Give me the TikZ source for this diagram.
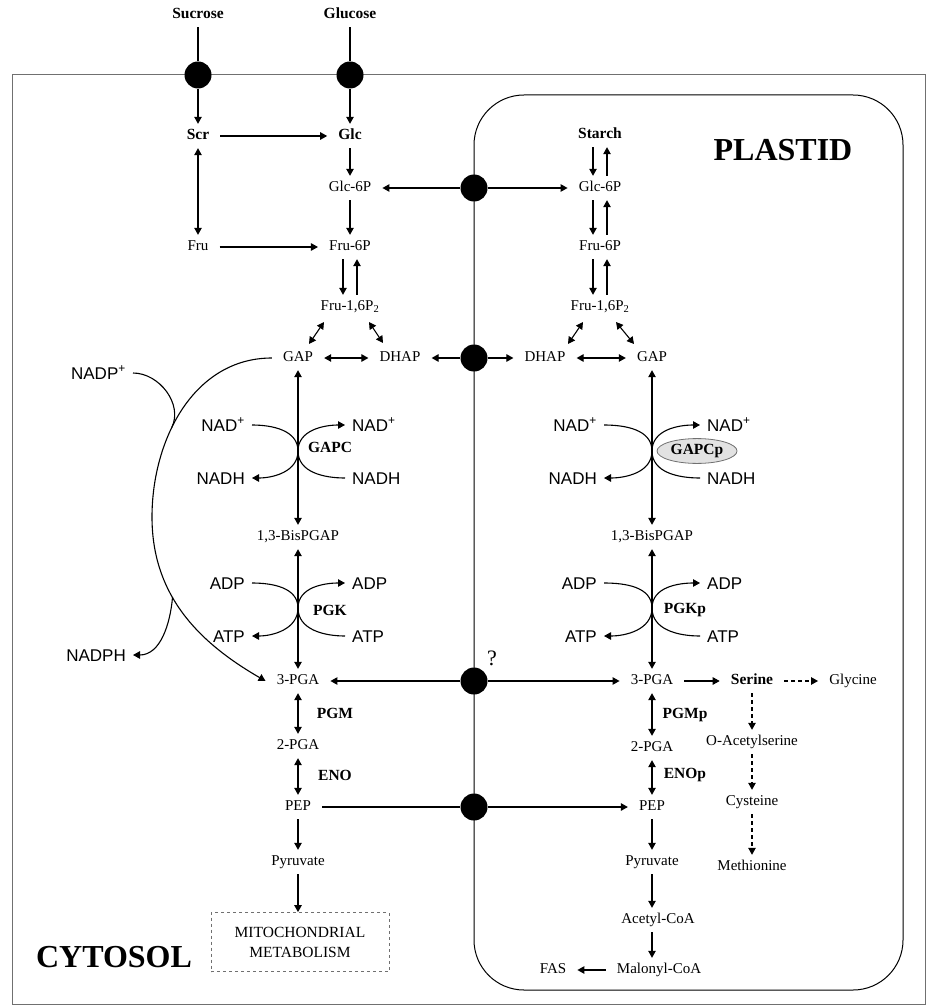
\documentclass[tikz,border=0pt]{standalone}
\usepackage{fontspec}
\setmainfont{Liberation Serif}
\setsansfont{Liberation Sans}
\usetikzlibrary{arrows.meta,positioning,calc,shapes.geometric}
\definecolor{wall}{HTML}{707070}
\definecolor{enzfill}{HTML}{E2E2E2}

\begin{document}
\begin{tikzpicture}[
    x=1pt, y=-1pt,
    met/.style={inner xsep=11pt, inner ysep=5pt, text height=10.5pt, text depth=3.5pt,
                font=\fontsize{15}{17}\selectfont},
    keymet/.style={met, font=\fontsize{15.5}{17}\selectfont\bfseries},
    cof/.style={inner xsep=7pt, inner ysep=3pt, text height=12.5pt, text depth=0pt,
                font=\sffamily\fontsize{17}{19}\selectfont},
    enz/.style={inner sep=2pt, font=\fontsize{15.5}{17}\selectfont\bfseries},
    pore/.style={circle, fill=black, minimum size=27pt, inner sep=0pt},
    region/.style={font=\fontsize{32}{36}\selectfont\bfseries},
    arr/.style={-{Triangle[length=7pt,width=7.5pt]}, line width=1.1pt},
    twoway/.style={{Triangle[length=7pt,width=7.5pt]}-{Triangle[length=7pt,width=7.5pt]}, line width=1.1pt},
    darr/.style={arr, dash pattern=on 4pt off 3pt}
  ]
  \useasboundingbox (0,0) rectangle (936,1008);
  % membranes
  \draw[wall, line width=1pt] (12,75) rectangle (925,1004);
  \draw[line width=1pt, rounded corners=50pt] (474,95) rectangle (903,990);

  % cytosol
  \node[keymet] (sucrose) at (198,15) {Sucrose};
  \node[keymet] (glucose) at (350,15) {Glucose};
  \node[pore] (tsuc) at (198,75) {};
  \node[pore] (tglc) at (350,75) {};
  \node[keymet] (scr) at (198,136) {Scr};
  \node[keymet] (glc) at (350,136) {Glc};
  \node[met] (g6p) at (350,188) {Glc-6P};
  \node[met] (fru) at (198,247) {Fru};
  \node[met] (f6p) at (350,247) {Fru-6P};
  \node[met] (fbp) at (350,307) {Fru-1,6P\textsubscript{2}};
  \node[met] (gap) at (298,358) {GAP};
  \node[met] (dhap) at (400,358) {DHAP};
  \node[met] (bpg) at (298,537) {1,3-BisPGAP};
  \node[met] (pga3) at (298,681) {3-PGA};
  \node[met] (pga2) at (298,746) {2-PGA};
  \node[met] (pep) at (298,807) {PEP};
  \node[met] (pyr) at (298,862) {Pyruvate};
  \node[draw=wall, dashed, line width=0.8pt, minimum width=178pt, minimum height=59pt,
        align=center, font=\fontsize{15.5}{20}\selectfont] (mito) at (300,942) {MITOCHONDRIAL\\METABOLISM};
  \node[region] (cytosol) at (114,957) {CYTOSOL};
  \node[enz] (gapc) at (330,447) {GAPC};
  \node[enz] (pgk) at (330,610) {PGK};
  \node[enz] (pgm) at (335,713) {PGM};
  \node[enz] (eno) at (335,775) {ENO};

  % plastid
  \node[region] (plastid) at (783,150) {PLASTID};
  \node[keymet] (starch) at (600,135) {Starch};
  \node[met] (pg6p) at (600,188) {Glc-6P};
  \node[met] (pf6p) at (600,247) {Fru-6P};
  \node[met] (pfbp) at (600,307) {Fru-1,6P\textsubscript{2}};
  \node[met] (pdhap) at (545,358) {DHAP};
  \node[met] (pgap) at (652,358) {GAP};
  \node[met] (pbpg) at (652,537) {1,3-BisPGAP};
  \node[met] (ppga3) at (652,681) {3-PGA};
  \node[met] (ppga2) at (652,748) {2-PGA};
  \node[met] (ppep) at (652,807) {PEP};
  \node[met] (ppyr) at (652,862) {Pyruvate};
  \node[met] (acoa) at (658,920) {Acetyl-CoA};
  \node[met] (mcoa) at (659,970) {Malonyl-CoA};
  \node[met] (fas) at (553,970) {FAS};
  \node[keymet] (serine) at (752,681) {Serine};
  \node[met] (glycine) at (853,681) {Glycine};
  \node[met] (oas) at (752,742) {O-Acetylserine};
  \node[met] (cys) at (752,802) {Cysteine};
  \node[met] (methio) at (752,867) {Methionine};
  \node[enz] (pgkp) at (685,610) {PGKp};
  \node[enz] (pgmp) at (685,715) {PGMp};
  \node[enz] (enop) at (685,775) {ENOp};

  % translocators
  \node[pore] (tg6p) at (474,188) {};
  \node[pore] (tdhap) at (474,358) {};
  \node[pore] (tpga) at (474,681) {};
  \node[pore] (tpep) at (474,807) {};
  \node[font=\fontsize{22}{24}\selectfont] (query) at (492,658) {?};

  \draw[line width=1.1pt] (sucrose) -- (tsuc);
  \draw[arr] (tsuc) -- (scr);
  \draw[line width=1.1pt] (glucose) -- (tglc);
  \draw[arr] (tglc) -- (glc);
  \draw[arr] (tg6p) -- (g6p);
  \draw[arr] (tg6p) -- (pg6p);
  \draw[arr] (tdhap) -- (dhap);
  \draw[arr] (tdhap) -- (pdhap);
  \draw[arr] (tpga) -- (pga3);
  \draw[arr] (tpga) -- (ppga3);
  \draw[line width=1.1pt] (pep) -- (tpep);
  \draw[arr] (tpep) -- (ppep);

  % cytosolic glycolysis
  \draw[arr] (scr) -- (glc);
  \draw[twoway] (scr) -- (fru);
  \draw[arr] (fru) -- (f6p);
  \draw[arr] (glc) -- (g6p);
  \draw[arr] (g6p) -- (f6p);
  \draw[arr] ([xshift=-7pt]f6p.south) -- ([xshift=-7pt]fbp.north);
  \draw[arr] ([xshift=7pt]fbp.north) -- ([xshift=7pt]f6p.south);
  \draw[twoway] ($(fbp)+(-26,15)$) -- ($(gap)+(11,-14)$);
  \draw[twoway] ($(fbp)+(19,15)$) -- ($(dhap)+(-17,-15)$);
  \draw[twoway] (gap) -- (dhap);
  \draw[twoway] (gap) -- (bpg);
  \draw[twoway] (bpg) -- (pga3);
  \draw[twoway] (pga3) -- (pga2);
  \draw[twoway] (pga2) -- (pep);
  \draw[arr] (pep) -- (pyr);
  \draw[arr] (pyr) -- (pyr |- mito.north);

  % GAPC
  \coordinate (gapcx) at (298,451);
  \node[cof, anchor=east] (nadl) at (252,425) {NAD\textsuperscript{+}};
  \node[cof, anchor=west] (nadr) at (345,425) {NAD\textsuperscript{+}};
  \node[cof, anchor=east] (nadhl) at (252,478) {NADH};
  \node[cof, anchor=west] (nadhr) at (345,478) {NADH};
  \draw[arr] (nadl.east) to[out=0,in=90] (gapcx) to[out=-90,in=0] (nadhl.east);
  \draw[arr] (nadhr.west) to[out=180,in=-90] (gapcx) to[out=90,in=180] (nadr.west);

  % PGK
  \coordinate (pgkx) at (298,608);
  \node[cof, anchor=east] (adpl) at (252,583) {ADP};
  \node[cof, anchor=west] (adpr) at (345,583) {ADP};
  \node[cof, anchor=east] (atpl) at (252,636) {ATP};
  \node[cof, anchor=west] (atpr) at (345,636) {ATP};
  \draw[arr] (adpl.east) to[out=0,in=90] (pgkx) to[out=-90,in=0] (atpl.east);
  \draw[arr] (atpr.west) to[out=180,in=-90] (pgkx) to[out=90,in=180] (adpr.west);

  % NADP shunt
  \node[cof, anchor=east] (nadp) at (133,373) {NADP\textsuperscript{+}};
  \node[cof, anchor=east] (nadph) at (133,655) {NADPH};
  \coordinate (bend) at (152,517);
  \draw[arr] (gap.west) to[out=180,in=90] coordinate[pos=0.6] (nadpin) (bend)
     to[out=-90,in=150] coordinate[pos=0.4] (nadphout) (pga3.west);
  \draw[line width=1.1pt] (nadp.east) to[out=0,in=64] (nadpin);
  \draw[arr] (nadphout) to[out=-95,in=0] (nadph.east);

  % plastidic glycolysis
  \draw[arr] ([xshift=-7pt]starch.south) -- ([xshift=-7pt]pg6p.north);
  \draw[arr] ([xshift=7pt]pg6p.north) -- ([xshift=7pt]starch.south);
  \draw[arr] ([xshift=-7pt]pg6p.south) -- ([xshift=-7pt]pf6p.north);
  \draw[arr] ([xshift=7pt]pf6p.north) -- ([xshift=7pt]pg6p.south);
  \draw[arr] ([xshift=-7pt]pf6p.south) -- ([xshift=-7pt]pfbp.north);
  \draw[arr] ([xshift=7pt]pfbp.north) -- ([xshift=7pt]pf6p.south);
  \draw[twoway] ($(pfbp)+(-17,15)$) -- ($(pdhap)+(23,-14)$);
  \draw[twoway] ($(pfbp)+(16,15)$) -- ($(pgap)+(-18,-14)$);
  \draw[twoway] (pdhap) -- (pgap);
  \draw[twoway] (pgap) -- (pbpg);
  \draw[twoway] (pbpg) -- (ppga3);
  \draw[twoway] (ppga3) -- (ppga2);
  \draw[twoway] (ppga2) -- (ppep);
  \draw[arr] (ppep) -- (ppyr);
  \draw[arr] (ppyr) -- (ppyr |- acoa.north);
  \draw[arr] (acoa.south -| ppyr) -- (ppyr |- mcoa.north);
  \draw[arr] (mcoa) -- (fas);
  \draw[arr] (ppga3) -- (serine);
  \draw[darr] (serine) -- (glycine);
  \draw[darr] (serine) -- (oas);
  \draw[darr] (oas) -- (cys);
  \draw[darr] (cys) -- (methio);

  % GAPCp
  \coordinate (gapcpx) at (652,451);
  \node[cof, anchor=east] (pnadl) at (604,425) {NAD\textsuperscript{+}};
  \node[cof, anchor=west] (pnadr) at (700,425) {NAD\textsuperscript{+}};
  \node[cof, anchor=east] (pnadhl) at (604,478) {NADH};
  \node[cof, anchor=west] (pnadhr) at (700,478) {NADH};
  \draw[arr] (pnadl.east) to[out=0,in=90] (gapcpx) to[out=-90,in=0] (pnadhl.east);
  \draw[arr] (pnadhr.west) to[out=180,in=-90] (gapcpx) to[out=90,in=180] (pnadr.west);
  \node[enz, ellipse, draw=wall, fill=enzfill, line width=0.8pt, minimum width=80pt,
        minimum height=23pt] (gapcp) at (697,451) {GAPCp};

  % PGKp
  \coordinate (pgkpx) at (652,608);
  \node[cof, anchor=east] (padpl) at (604,583) {ADP};
  \node[cof, anchor=west] (padpr) at (700,583) {ADP};
  \node[cof, anchor=east] (patpl) at (604,636) {ATP};
  \node[cof, anchor=west] (patpr) at (700,636) {ATP};
  \draw[arr] (padpl.east) to[out=0,in=90] (pgkpx) to[out=-90,in=0] (patpl.east);
  \draw[arr] (patpr.west) to[out=180,in=-90] (pgkpx) to[out=90,in=180] (padpr.west);
\end{tikzpicture}
\end{document}
